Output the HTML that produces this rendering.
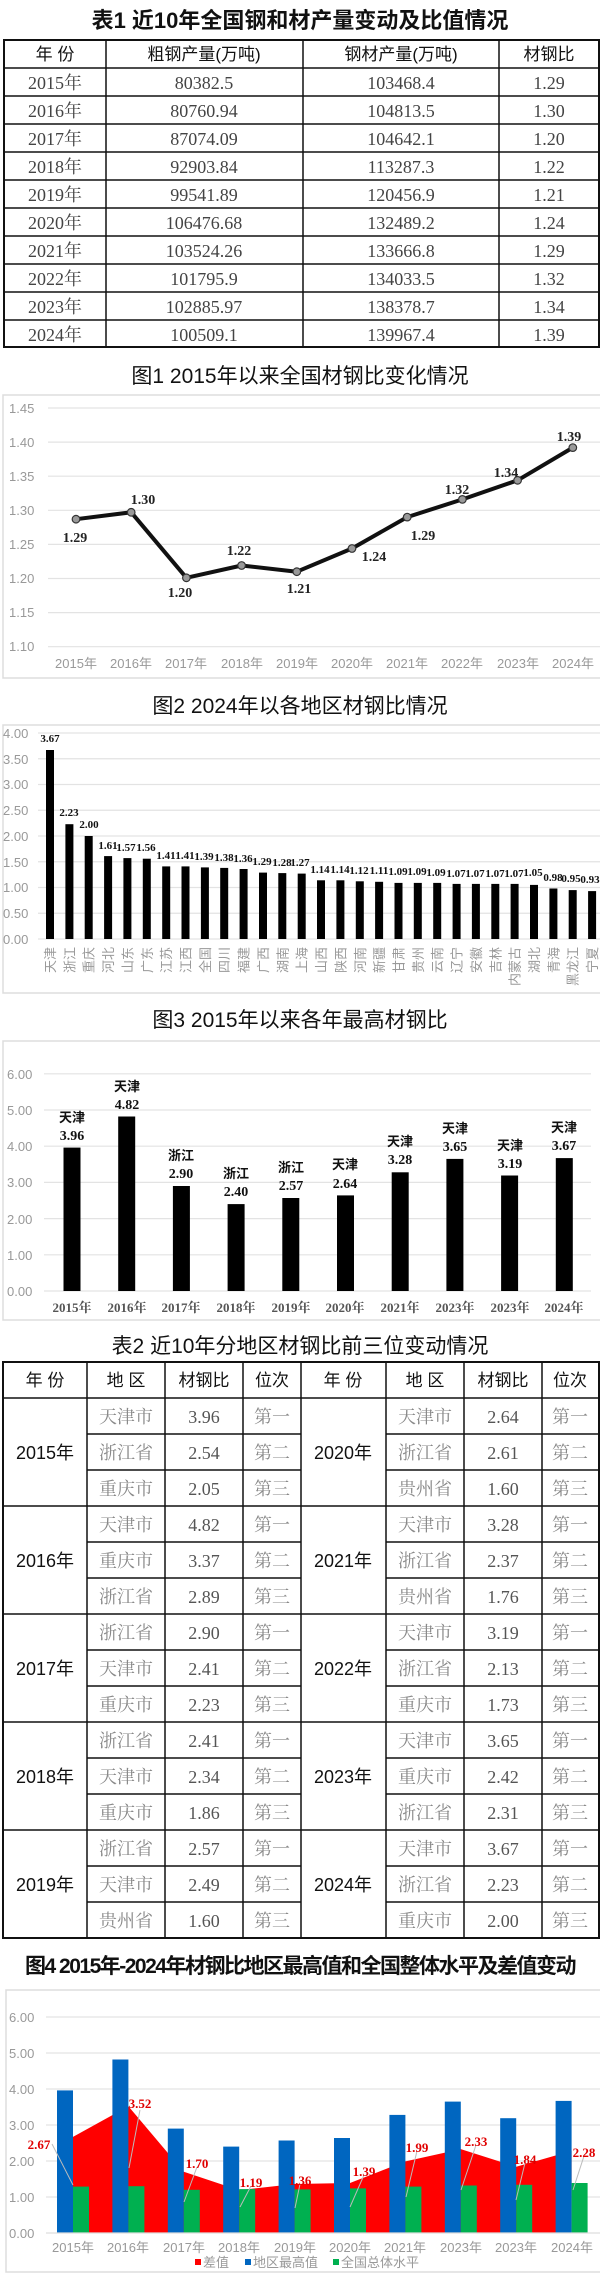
<!DOCTYPE html>
<html><head><meta charset="utf-8"><style>
html,body{margin:0;padding:0;background:#fff;}
svg{display:block;}
.t{font-family:"Liberation Sans","Noto Sans CJK SC",sans-serif;fill:#111;}
.s{font-family:"Liberation Serif","Noto Serif CJK SC",serif;}
.g{font-family:"Liberation Sans","Noto Sans CJK SC",sans-serif;fill:#999;font-size:13px;}
</style></head><body>
<svg width="600" height="2273" viewBox="0 0 600 2273" xmlns="http://www.w3.org/2000/svg">
<!-- TABLE 1 -->
<text class="t" x="300" y="28" font-size="22" text-anchor="middle" font-weight="bold">表1 近10年全国钢和材产量变动及比值情况</text>
<g stroke="#111" stroke-width="1.5" fill="none">
<rect x="4" y="40" width="595" height="307" stroke-width="2"/>
<line x1="4" y1="68" x2="599" y2="68"/>
<line x1="4" y1="96" x2="599" y2="96"/><line x1="4" y1="124" x2="599" y2="124"/>
<line x1="4" y1="152" x2="599" y2="152"/><line x1="4" y1="180" x2="599" y2="180"/>
<line x1="4" y1="208" x2="599" y2="208"/><line x1="4" y1="236" x2="599" y2="236"/>
<line x1="4" y1="264" x2="599" y2="264"/><line x1="4" y1="292" x2="599" y2="292"/>
<line x1="4" y1="320" x2="599" y2="320"/>
<line x1="106" y1="40" x2="106" y2="347"/><line x1="303" y1="40" x2="303" y2="347"/><line x1="499" y1="40" x2="499" y2="347"/>
</g>
<g class="t" font-size="17" text-anchor="middle">
<text x="55" y="60">年 份</text><text x="204" y="60">粗钢产量(万吨)</text><text x="401" y="60">钢材产量(万吨)</text><text x="549" y="60">材钢比</text>
</g>
<g class="s" font-size="18" fill="#444" text-anchor="middle">
<text x="55" y="89">2015年</text><text x="204" y="89">80382.5</text><text x="401" y="89">103468.4</text><text x="549" y="89">1.29</text>
<text x="55" y="117">2016年</text><text x="204" y="117">80760.94</text><text x="401" y="117">104813.5</text><text x="549" y="117">1.30</text>
<text x="55" y="145">2017年</text><text x="204" y="145">87074.09</text><text x="401" y="145">104642.1</text><text x="549" y="145">1.20</text>
<text x="55" y="173">2018年</text><text x="204" y="173">92903.84</text><text x="401" y="173">113287.3</text><text x="549" y="173">1.22</text>
<text x="55" y="201">2019年</text><text x="204" y="201">99541.89</text><text x="401" y="201">120456.9</text><text x="549" y="201">1.21</text>
<text x="55" y="229">2020年</text><text x="204" y="229">106476.68</text><text x="401" y="229">132489.2</text><text x="549" y="229">1.24</text>
<text x="55" y="257">2021年</text><text x="204" y="257">103524.26</text><text x="401" y="257">133666.8</text><text x="549" y="257">1.29</text>
<text x="55" y="285">2022年</text><text x="204" y="285">101795.9</text><text x="401" y="285">134033.5</text><text x="549" y="285">1.32</text>
<text x="55" y="313">2023年</text><text x="204" y="313">102885.97</text><text x="401" y="313">138378.7</text><text x="549" y="313">1.34</text>
<text x="55" y="341">2024年</text><text x="204" y="341">100509.1</text><text x="401" y="341">139967.4</text><text x="549" y="341">1.39</text>
</g>

<!-- CHART 1 -->
<text class="t" x="300" y="383" font-size="21" text-anchor="middle">图1 2015年以来全国材钢比变化情况</text>
<rect x="3" y="395" width="600" height="283" fill="none" stroke="#ddd" stroke-width="1.5"/>
<g stroke="#e3e3e3" stroke-width="1.2">
<line x1="48" y1="408" x2="600" y2="408"/><line x1="48" y1="442.1" x2="600" y2="442.1"/>
<line x1="48" y1="476.2" x2="600" y2="476.2"/><line x1="48" y1="510.3" x2="600" y2="510.3"/>
<line x1="48" y1="544.4" x2="600" y2="544.4"/><line x1="48" y1="578.5" x2="600" y2="578.5"/>
<line x1="48" y1="612.6" x2="600" y2="612.6"/><line x1="48" y1="646.7" x2="600" y2="646.7"/>
</g>
<g class="g">
<text x="9" y="413">1.45</text><text x="9" y="447">1.40</text><text x="9" y="481">1.35</text><text x="9" y="515">1.30</text>
<text x="9" y="549">1.25</text><text x="9" y="583">1.20</text><text x="9" y="617">1.15</text><text x="9" y="651">1.10</text>
</g>
<g class="g" text-anchor="middle">
<text x="76" y="668">2015年</text><text x="131" y="668">2016年</text><text x="186" y="668">2017年</text><text x="242" y="668">2018年</text><text x="297" y="668">2019年</text>
<text x="352" y="668">2020年</text><text x="407" y="668">2021年</text><text x="462" y="668">2022年</text><text x="518" y="668">2023年</text><text x="573" y="668">2024年</text>
</g>
<polyline fill="none" stroke="#111" stroke-width="4" stroke-linejoin="round" points="76,519.2 131.2,512.3 186.4,577.8 241.6,565.5 296.8,571.7 352,548.5 407.2,517.1 462.4,499.4 517.6,480.3 572.8,447.6"/>
<g fill="#999" stroke="#333" stroke-width="1.2">
<circle cx="76" cy="519.2" r="3.8"/><circle cx="131.2" cy="512.3" r="3.8"/><circle cx="186.4" cy="577.8" r="3.8"/><circle cx="241.6" cy="565.5" r="3.8"/><circle cx="296.8" cy="571.7" r="3.8"/>
<circle cx="352" cy="548.5" r="3.8"/><circle cx="407.2" cy="517.1" r="3.8"/><circle cx="462.4" cy="499.4" r="3.8"/><circle cx="517.6" cy="480.3" r="3.8"/><circle cx="572.8" cy="447.6" r="3.8"/>
</g>
<g class="s" font-size="14" font-weight="bold" fill="#222" text-anchor="middle">
<text x="75" y="542">1.29</text><text x="143" y="504">1.30</text><text x="180" y="597">1.20</text><text x="239" y="555">1.22</text><text x="299" y="593">1.21</text>
<text x="374" y="561">1.24</text><text x="423" y="540">1.29</text><text x="457" y="494">1.32</text><text x="506" y="477">1.34</text><text x="569" y="441">1.39</text>
</g>

<!-- CHART 2 -->
<text class="t" x="300" y="713" font-size="21" text-anchor="middle">图2 2024年以各地区材钢比情况</text>
<rect x="3" y="725" width="600" height="268" fill="none" stroke="#ddd" stroke-width="1.5"/>
<g stroke="#e3e3e3" stroke-width="1.2">
<line x1="38" y1="733" x2="600" y2="733"/><line x1="38" y1="758.75" x2="600" y2="758.75"/><line x1="38" y1="784.5" x2="600" y2="784.5"/>
<line x1="38" y1="810.25" x2="600" y2="810.25"/><line x1="38" y1="836" x2="600" y2="836"/><line x1="38" y1="861.75" x2="600" y2="861.75"/>
<line x1="38" y1="887.5" x2="600" y2="887.5"/><line x1="38" y1="913.25" x2="600" y2="913.25"/><line x1="38" y1="939" x2="600" y2="939"/>
</g>
<g class="g" font-size="12">
<text x="3" y="738">4.00</text><text x="3" y="764">3.50</text><text x="3" y="789">3.00</text><text x="3" y="815">2.50</text>
<text x="3" y="841">2.00</text><text x="3" y="867">1.50</text><text x="3" y="892">1.00</text><text x="3" y="918">0.50</text><text x="3" y="944">0.00</text>
</g>
<g fill="#000">
<rect x="46" y="750" width="8" height="189"/><rect x="65.4" y="824.2" width="8" height="114.8"/><rect x="84.7" y="836" width="8" height="103"/>
<rect x="104.1" y="856.1" width="8" height="82.9"/><rect x="123.4" y="858.1" width="8" height="80.9"/><rect x="142.8" y="858.7" width="8" height="80.3"/>
<rect x="162.2" y="866.4" width="8" height="72.6"/><rect x="181.5" y="866.4" width="8" height="72.6"/><rect x="200.9" y="867.4" width="8" height="71.6"/>
<rect x="220.2" y="867.9" width="8" height="71.1"/><rect x="239.6" y="869" width="8" height="70"/><rect x="259" y="872.6" width="8" height="66.4"/>
<rect x="278.3" y="873.1" width="8" height="65.9"/><rect x="297.7" y="873.6" width="8" height="65.4"/><rect x="317" y="880.3" width="8" height="58.7"/>
<rect x="336.4" y="880.3" width="8" height="58.7"/><rect x="355.8" y="881.3" width="8" height="57.7"/><rect x="375.1" y="881.8" width="8" height="57.2"/>
<rect x="394.5" y="882.9" width="8" height="56.1"/><rect x="413.8" y="882.9" width="8" height="56.1"/><rect x="433.2" y="882.9" width="8" height="56.1"/>
<rect x="452.6" y="883.9" width="8" height="55.1"/><rect x="471.9" y="883.9" width="8" height="55.1"/><rect x="491.3" y="883.9" width="8" height="55.1"/>
<rect x="510.6" y="883.9" width="8" height="55.1"/><rect x="530" y="884.9" width="8" height="54.1"/><rect x="549.4" y="888.5" width="8" height="50.5"/>
<rect x="568.7" y="890.1" width="8" height="48.9"/><rect x="588.1" y="891.1" width="8" height="47.9"/>
</g>
<g class="s" font-size="11" font-weight="bold" fill="#111" text-anchor="middle">
<text x="50" y="742">3.67</text><text x="69" y="816">2.23</text><text x="89" y="828">2.00</text>
<text x="108" y="849">1.61</text><text x="126" y="851">1.57</text><text x="146" y="851">1.56</text>
<text x="166" y="859">1.41</text><text x="185" y="859">1.41</text><text x="204" y="860">1.39</text>
<text x="224" y="861">1.38</text><text x="243" y="862">1.36</text><text x="262" y="865">1.29</text>
<text x="282" y="866">1.28</text><text x="300" y="866">1.27</text><text x="320" y="873">1.14</text>
<text x="340" y="873">1.14</text><text x="359" y="874">1.12</text><text x="379" y="874">1.11</text>
<text x="398" y="875">1.09</text><text x="417" y="875">1.09</text><text x="436" y="876">1.09</text>
<text x="456" y="877">1.07</text><text x="475" y="877">1.07</text><text x="495" y="877">1.07</text>
<text x="514" y="877">1.07</text><text x="533" y="876">1.05</text><text x="553" y="881">0.98</text>
<text x="571" y="882">0.95</text><text x="590" y="883">0.93</text>
</g>
<g class="g" font-size="13" fill="#777" text-anchor="end">
<text transform="translate(55,947) rotate(-90)">天津</text><text transform="translate(74.4,947) rotate(-90)">浙江</text><text transform="translate(93.7,947) rotate(-90)">重庆</text>
<text transform="translate(113.1,947) rotate(-90)">河北</text><text transform="translate(132.4,947) rotate(-90)">山东</text><text transform="translate(151.8,947) rotate(-90)">广东</text>
<text transform="translate(171.2,947) rotate(-90)">江苏</text><text transform="translate(190.5,947) rotate(-90)">江西</text><text transform="translate(209.9,947) rotate(-90)">全国</text>
<text transform="translate(229.2,947) rotate(-90)">四川</text><text transform="translate(248.6,947) rotate(-90)">福建</text><text transform="translate(268,947) rotate(-90)">广西</text>
<text transform="translate(287.3,947) rotate(-90)">湖南</text><text transform="translate(306.7,947) rotate(-90)">上海</text><text transform="translate(326,947) rotate(-90)">山西</text>
<text transform="translate(345.4,947) rotate(-90)">陕西</text><text transform="translate(364.8,947) rotate(-90)">河南</text><text transform="translate(384.1,947) rotate(-90)">新疆</text>
<text transform="translate(403.5,947) rotate(-90)">甘肃</text><text transform="translate(422.8,947) rotate(-90)">贵州</text><text transform="translate(442.2,947) rotate(-90)">云南</text>
<text transform="translate(461.6,947) rotate(-90)">辽宁</text><text transform="translate(480.9,947) rotate(-90)">安徽</text><text transform="translate(500.3,947) rotate(-90)">吉林</text>
<text transform="translate(519.6,947) rotate(-90)">内蒙古</text><text transform="translate(539,947) rotate(-90)">湖北</text><text transform="translate(558.4,947) rotate(-90)">青海</text>
<text transform="translate(577.7,947) rotate(-90)">黑龙江</text><text transform="translate(597.1,947) rotate(-90)">宁夏</text>
</g>

<!-- CHART 3 -->
<text class="t" x="300" y="1027" font-size="21" text-anchor="middle">图3 2015年以来各年最高材钢比</text>
<rect x="3" y="1041" width="600" height="279" fill="none" stroke="#ddd" stroke-width="1.5"/>
<g stroke="#e3e3e3" stroke-width="1.2">
<line x1="44" y1="1073.8" x2="591" y2="1073.8"/><line x1="44" y1="1110" x2="591" y2="1110"/><line x1="44" y1="1146.2" x2="591" y2="1146.2"/>
<line x1="44" y1="1182.4" x2="591" y2="1182.4"/><line x1="44" y1="1218.6" x2="591" y2="1218.6"/><line x1="44" y1="1254.8" x2="591" y2="1254.8"/>
<line x1="44" y1="1291" x2="591" y2="1291"/>
</g>
<g class="g">
<text x="7" y="1079">6.00</text><text x="7" y="1115">5.00</text><text x="7" y="1151">4.00</text><text x="7" y="1187">3.00</text>
<text x="7" y="1224">2.00</text><text x="7" y="1260">1.00</text><text x="7" y="1296">0.00</text>
</g>
<g fill="#000">
<rect x="63.5" y="1147.6" width="17" height="143.4"/><rect x="118.2" y="1116.5" width="17" height="174.5"/><rect x="172.9" y="1186" width="17" height="105"/>
<rect x="227.6" y="1204.1" width="17" height="86.9"/><rect x="282.3" y="1198" width="17" height="93"/><rect x="337" y="1195.4" width="17" height="95.6"/>
<rect x="391.7" y="1172.3" width="17" height="118.7"/><rect x="446.4" y="1158.9" width="17" height="132.1"/><rect x="501.1" y="1175.5" width="17" height="115.5"/>
<rect x="555.8" y="1158.1" width="17" height="132.9"/>
</g>
<g class="t" font-size="13" font-weight="bold" text-anchor="middle" fill="#111">
<text x="72" y="1122">天津</text><text x="127" y="1091">天津</text><text x="181" y="1160">浙江</text><text x="236" y="1178">浙江</text><text x="291" y="1172">浙江</text>
<text x="345" y="1169">天津</text><text x="400" y="1146">天津</text><text x="455" y="1133">天津</text><text x="510" y="1150">天津</text><text x="564" y="1132">天津</text>
</g>
<g class="s" font-size="14" font-weight="bold" text-anchor="middle" fill="#111">
<text x="72" y="1140">3.96</text><text x="127" y="1109">4.82</text><text x="181" y="1178">2.90</text><text x="236" y="1196">2.40</text><text x="291" y="1190">2.57</text>
<text x="345" y="1188">2.64</text><text x="400" y="1164">3.28</text><text x="455" y="1151">3.65</text><text x="510" y="1168">3.19</text><text x="564" y="1150">3.67</text>
</g>
<g class="s" font-size="13" font-weight="bold" text-anchor="middle" fill="#555">
<text x="72" y="1312">2015年</text><text x="127" y="1312">2016年</text><text x="181" y="1312">2017年</text><text x="236" y="1312">2018年</text><text x="291" y="1312">2019年</text>
<text x="345" y="1312">2020年</text><text x="400" y="1312">2021年</text><text x="455" y="1312">2023年</text><text x="510" y="1312">2023年</text><text x="564" y="1312">2024年</text>
</g>

<!-- TABLE 2 -->
<text class="t" x="300" y="1353" font-size="21" text-anchor="middle">表2 近10年分地区材钢比前三位变动情况</text>
<g stroke="#111" stroke-width="1.5" fill="none">
<rect x="3" y="1362" width="596" height="576" stroke-width="2"/>
<line x1="3" y1="1398" x2="599" y2="1398"/>
<line x1="3" y1="1506" x2="599" y2="1506"/><line x1="3" y1="1614" x2="599" y2="1614"/>
<line x1="3" y1="1722" x2="599" y2="1722"/><line x1="3" y1="1830" x2="599" y2="1830"/>
<line x1="87" y1="1362" x2="87" y2="1938"/><line x1="165" y1="1362" x2="165" y2="1938"/><line x1="243" y1="1362" x2="243" y2="1938"/>
<line x1="301" y1="1362" x2="301" y2="1938"/><line x1="386" y1="1362" x2="386" y2="1938"/><line x1="464" y1="1362" x2="464" y2="1938"/>
<line x1="542" y1="1362" x2="542" y2="1938"/>
</g>
<g stroke="#111" stroke-width="1.5">
<path d="M87 1434H301M87 1470H301M87 1542H301M87 1578H301M87 1650H301M87 1686H301M87 1758H301M87 1794H301M87 1866H301M87 1902H301"/>
<path d="M386 1434H599M386 1470H599M386 1542H599M386 1578H599M386 1650H599M386 1686H599M386 1758H599M386 1794H599M386 1866H599M386 1902H599"/>
</g>
<g class="t" font-size="17" text-anchor="middle">
<text x="45" y="1386">年 份</text><text x="126" y="1386">地 区</text><text x="204" y="1386">材钢比</text><text x="272" y="1386">位次</text>
<text x="343" y="1386">年 份</text><text x="425" y="1386">地 区</text><text x="503" y="1386">材钢比</text><text x="570" y="1386">位次</text>
</g>
<g class="t" font-size="18" text-anchor="middle" fill="#111">
<text x="45" y="1459">2015年</text><text x="45" y="1567">2016年</text><text x="45" y="1675">2017年</text><text x="45" y="1783">2018年</text><text x="45" y="1891">2019年</text>
<text x="343" y="1459">2020年</text><text x="343" y="1567">2021年</text><text x="343" y="1675">2022年</text><text x="343" y="1783">2023年</text><text x="343" y="1891">2024年</text>
</g>
<g font-family="'Liberation Serif','Noto Serif CJK SC',serif" font-size="18" text-anchor="middle" fill="#888">
<text x="126" y="1423">天津市</text><text x="272" y="1423">第一</text><text x="126" y="1459">浙江省</text><text x="272" y="1459">第二</text><text x="126" y="1495">重庆市</text><text x="272" y="1495">第三</text>
<text x="126" y="1531">天津市</text><text x="272" y="1531">第一</text><text x="126" y="1567">重庆市</text><text x="272" y="1567">第二</text><text x="126" y="1603">浙江省</text><text x="272" y="1603">第三</text>
<text x="126" y="1639">浙江省</text><text x="272" y="1639">第一</text><text x="126" y="1675">天津市</text><text x="272" y="1675">第二</text><text x="126" y="1711">重庆市</text><text x="272" y="1711">第三</text>
<text x="126" y="1747">浙江省</text><text x="272" y="1747">第一</text><text x="126" y="1783">天津市</text><text x="272" y="1783">第二</text><text x="126" y="1819">重庆市</text><text x="272" y="1819">第三</text>
<text x="126" y="1855">浙江省</text><text x="272" y="1855">第一</text><text x="126" y="1891">天津市</text><text x="272" y="1891">第二</text><text x="126" y="1927">贵州省</text><text x="272" y="1927">第三</text>
<text x="425" y="1423">天津市</text><text x="570" y="1423">第一</text><text x="425" y="1459">浙江省</text><text x="570" y="1459">第二</text><text x="425" y="1495">贵州省</text><text x="570" y="1495">第三</text>
<text x="425" y="1531">天津市</text><text x="570" y="1531">第一</text><text x="425" y="1567">浙江省</text><text x="570" y="1567">第二</text><text x="425" y="1603">贵州省</text><text x="570" y="1603">第三</text>
<text x="425" y="1639">天津市</text><text x="570" y="1639">第一</text><text x="425" y="1675">浙江省</text><text x="570" y="1675">第二</text><text x="425" y="1711">重庆市</text><text x="570" y="1711">第三</text>
<text x="425" y="1747">天津市</text><text x="570" y="1747">第一</text><text x="425" y="1783">重庆市</text><text x="570" y="1783">第二</text><text x="425" y="1819">浙江省</text><text x="570" y="1819">第三</text>
<text x="425" y="1855">天津市</text><text x="570" y="1855">第一</text><text x="425" y="1891">浙江省</text><text x="570" y="1891">第二</text><text x="425" y="1927">重庆市</text><text x="570" y="1927">第三</text>
</g>
<g class="s" font-size="18" text-anchor="middle" fill="#555">
<text x="204" y="1423">3.96</text><text x="204" y="1459">2.54</text><text x="204" y="1495">2.05</text>
<text x="204" y="1531">4.82</text><text x="204" y="1567">3.37</text><text x="204" y="1603">2.89</text>
<text x="204" y="1639">2.90</text><text x="204" y="1675">2.41</text><text x="204" y="1711">2.23</text>
<text x="204" y="1747">2.41</text><text x="204" y="1783">2.34</text><text x="204" y="1819">1.86</text>
<text x="204" y="1855">2.57</text><text x="204" y="1891">2.49</text><text x="204" y="1927">1.60</text>
<text x="503" y="1423">2.64</text><text x="503" y="1459">2.61</text><text x="503" y="1495">1.60</text>
<text x="503" y="1531">3.28</text><text x="503" y="1567">2.37</text><text x="503" y="1603">1.76</text>
<text x="503" y="1639">3.19</text><text x="503" y="1675">2.13</text><text x="503" y="1711">1.73</text>
<text x="503" y="1747">3.65</text><text x="503" y="1783">2.42</text><text x="503" y="1819">2.31</text>
<text x="503" y="1855">3.67</text><text x="503" y="1891">2.23</text><text x="503" y="1927">2.00</text>
</g>

<!-- CHART 4 -->
<text class="t" x="300" y="1973" font-size="21" text-anchor="middle" font-weight="bold" letter-spacing="-1.5">图4 2015年-2024年材钢比地区最高值和全国整体水平及差值变动</text>
<rect x="6" y="1990" width="600" height="282" fill="none" stroke="#ddd" stroke-width="1.5"/>
<g stroke="#e3e3e3" stroke-width="1.2">
<line x1="46" y1="2017" x2="600" y2="2017"/><line x1="46" y1="2053" x2="600" y2="2053"/><line x1="46" y1="2089" x2="600" y2="2089"/>
<line x1="46" y1="2125" x2="600" y2="2125"/><line x1="46" y1="2161" x2="600" y2="2161"/><line x1="46" y1="2197" x2="600" y2="2197"/>
</g>
<g class="g">
<text x="9" y="2022">6.00</text><text x="9" y="2058">5.00</text><text x="9" y="2094">4.00</text><text x="9" y="2130">3.00</text>
<text x="9" y="2166">2.00</text><text x="9" y="2202">1.00</text><text x="9" y="2238">0.00</text>
</g>
<polygon fill="#ff0000" points="73,2233 73,2136.9 128.4,2106.3 183.8,2171.8 239.2,2190.2 294.6,2184 350,2183 405.4,2161.4 460.8,2149.1 516.2,2166.8 571.6,2150.9 571.6,2233"/>
<g fill="#0066c0">
<rect x="57" y="2090.4" width="16" height="142.6"/><rect x="112.4" y="2059.5" width="16" height="173.5"/><rect x="167.8" y="2128.6" width="16" height="104.4"/>
<rect x="223.2" y="2146.6" width="16" height="86.4"/><rect x="278.6" y="2140.5" width="16" height="92.5"/><rect x="334" y="2138" width="16" height="95"/>
<rect x="389.4" y="2114.9" width="16" height="118.1"/><rect x="444.8" y="2101.6" width="16" height="131.4"/><rect x="500.2" y="2118.2" width="16" height="114.8"/>
<rect x="555.6" y="2100.9" width="16" height="132.1"/>
</g>
<g fill="#00b050">
<rect x="73" y="2186.6" width="16" height="46.4"/><rect x="128.4" y="2186.2" width="16" height="46.8"/><rect x="183.8" y="2189.8" width="16" height="43.2"/>
<rect x="239.2" y="2189.1" width="16" height="43.9"/><rect x="294.6" y="2189.4" width="16" height="43.6"/><rect x="350" y="2188.4" width="16" height="44.6"/>
<rect x="405.4" y="2186.6" width="16" height="46.4"/><rect x="460.8" y="2185.5" width="16" height="47.5"/><rect x="516.2" y="2184.8" width="16" height="48.2"/>
<rect x="571.6" y="2183" width="16" height="50"/>
</g>
<line x1="46" y1="2233" x2="600" y2="2233" stroke="#ddd" stroke-width="1.2"/>
<g stroke="#bbb" stroke-width="1" fill="none">
<path d="M52 2144L73 2185"/><path d="M140 2110L129 2168"/><path d="M197 2167L184 2202"/><path d="M251 2186L240 2207"/><path d="M300 2184L295 2208"/>
<path d="M364 2175L350 2207"/><path d="M417 2151L406 2197"/><path d="M476 2145L461 2190"/><path d="M525 2163L516 2200"/><path d="M584 2156L573 2190"/>
</g>
<g class="s" font-size="13" font-weight="bold" fill="#e00000" text-anchor="middle">
<text x="39" y="2149">2.67</text><text x="140" y="2108">3.52</text><text x="197" y="2168">1.70</text><text x="251" y="2187">1.19</text><text x="300" y="2185">1.36</text>
<text x="364" y="2176">1.39</text><text x="417" y="2152">1.99</text><text x="476" y="2146">2.33</text><text x="525" y="2164">1.84</text><text x="584" y="2157">2.28</text>
</g>
<g class="g" text-anchor="middle">
<text x="73" y="2252">2015年</text><text x="128" y="2252">2016年</text><text x="184" y="2252">2017年</text><text x="239" y="2252">2018年</text><text x="295" y="2252">2019年</text>
<text x="350" y="2252">2020年</text><text x="405" y="2252">2021年</text><text x="461" y="2252">2023年</text><text x="516" y="2252">2023年</text><text x="572" y="2252">2024年</text>
</g>
<rect x="195" y="2259" width="6" height="6" fill="#ff0000"/><text class="g" x="203" y="2267">差值</text>
<rect x="245" y="2259" width="6" height="6" fill="#0066c0"/><text class="g" x="253" y="2267">地区最高值</text>
<rect x="333" y="2259" width="6" height="6" fill="#00b050"/><text class="g" x="341" y="2267">全国总体水平</text>
</svg>
</body></html>
